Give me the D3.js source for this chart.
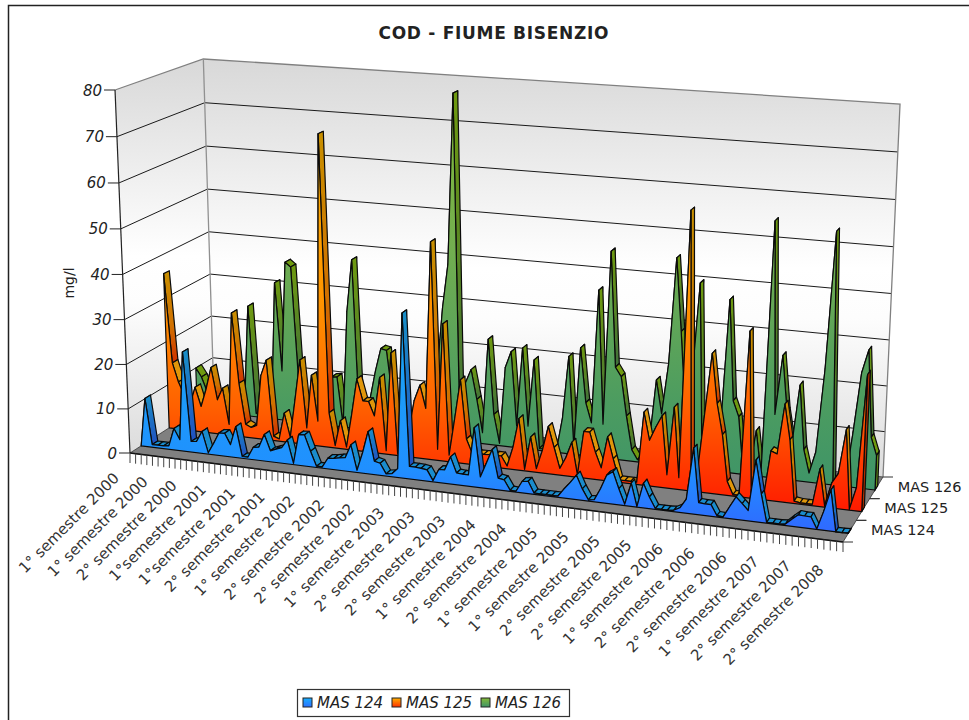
<!DOCTYPE html>
<html lang="en">
<head>
<meta charset="UTF-8">
<title>COD - FIUME BISENZIO</title>
<style>
body { margin: 0; background: #fff; }
svg { display: block; font-family: "DejaVu Sans", sans-serif; fill: #222; }
</style>
</head>
<body>
<div id="chart"></div>
<script src="https://d3js.org/d3.v7.min.js"></script>
<script>

const series = ["MAS 124", "MAS 125", "MAS 126"];
const yTicks = [0, 10, 20, 30, 40, 50, 60, 70, 80];
const xLabels = ["1° semestre 2000", "1° semestre 2000", "2° semestre 2000", "1°semestre 2001", "1°semestre 2001", "2° semestre 2001",
    "1° semestre 2002", "2° semestre 2002", "2° semestre 2002", "1° semestre 2003", "2° semestre 2003", "2° semestre 2003",
    "1° semestre 2004", "2° semestre 2004", "1° semestre 2005", "1° semestre 2005", "2° semestre 2005", "2° semestre 2005",
    "1° semestre 2006", "2° semestre 2006", "2° semestre 2006", "1° semestre 2007", "2° semestre 2007", "2° semestre 2008"];

const mas124 = [0, 11, .6, .6, .6, .8, 4.9, 2.5, 22.5, 2.4,
    2.6, 5, .3, 2.6, 5.1, 5.2, 2.8, 7, .4, .4,
    2.8, 3, 6, 2.5, 3, 3.5, 5.4, .3, 6.9, 7,
    3.5, .3, .3, 2.4, 2.5, 2.8, 3, 6, .5, 4.5,
    9.4, 3, 2.7, .5, .7, 2, 36.2, 2.8, 2.8, 2.7,
    2.5, .3, 2.9, 3, 6, 2.6, 2.5, 2.5, 13, 2.4,
    5.5, 8.7, 2.6, 2.4, .3, .2, 2.5, 2.7, .3, .3,
    .3, .3, .3, 2, 3.6, 5.3, 2.5, .3, .5, 3,
    6.1, 7, 3.5, .3, 5, .1, 5.3, 2.5, .2, .2,
    .2, .3, 1, 3, 14, 2.6, 2.5, 2.5, .3, .2,
    2.5, 4.8, 3.5, 2.2, 13, 6, .2, .2, .2, .3,
    1.5, 2.6, 2.5, 2.5, .1, 4, 8.6, 0, 0, .1];

const mas125 = [35.7, 15.3, 11, 8, 6, 10.2, 5.9, 10, 15.2, 7.9,
    10.7, 2.5, 28.3, 12.3, 3, 2.4, 3, 14.7, 18.3, 1,
    .5, 6.6, 1.2, 10, 19.2, 3.8, 16, 5.7, 70, 7.9,
    .5, 6.4, .5, 8, 16.3, 11.5, 11.5, 8.4, 17.2, .8,
    23, .5, .5, 6, 12.9, 16.5, 11.4, 48.5, 2.5, 30.7,
    1.5, 10, 18.7, 5.6, 2.5, 2.6, 2.6, 2.7, 2.7, 2.7,
    .6, 5, 11.5, .3, 7.7, .8, 5, 10.5, 6, 1.5,
    4, 7.6, .5, 10.3, 10.3, 6, 2.7, 9.7, 5, .5,
    .5, .5, .5, 16, 10, 13, 15.6, 2.9, 17.8, 2.6,
    60, 4, 3.6, 17, 30.2, 19.6, 13, 3, .3, .3,
    35.7, .2, .2, .5, 10.7, 10.2, 21, 13.5, .5, .3,
    .3, .3, 8, .3, 5.4, 7.5, 17, .2, 5, 29];

const mas126 = [10, 8, 4.6, 1, .5, .5, .5, .5, 1, 4,
    25.9, .8, .5, .5, 3, 32, 11.6, 37, 36, 9.7,
    1, .5, .5, 5, 9, 11.4, 11.6, .3, 27, 39,
    .5, 3, 7.6, 14, 19.3, 19, 8, .5, .5, .5,
    .5, .5, .5, 3, 15, 30, 40, 78, 2, 13.5,
    16.7, 10, 2.5, 24, 7, .5, 18, 21.7, 5, 22.8,
    5.2, 20.4, .4, .4, .4, .5, 8, 22, 1.7, 24.2,
    12, 7.6, 37.4, 7.6, 46.2, 20.7, 18.7, 10, 2.6, .5,
    .5, 5, 18.8, 11.4, 22.6, 46, 30, 12, 20, 41,
    2, .5, .5, 10, 38, 16, 12.6, .5, .5, 10,
    .5, 55.7, 14, 27, 15, 8, 21, 7, 2, 6.8,
    25, 54.5, .5, .5, .5, 12, 25, 30, 11.3, 7.5];

const width = 969;
const height = 720;

const svg = d3.select("#chart").append("svg")
    .attr("width", width)
    .attr("height", height);
const defs = svg.append("defs");

// axis scales into the unit cube of the 3D box
const xScale = d3.scaleLinear().domain([0, 119]).range([0, 1]);
const yScale = d3.scaleLinear().domain([0, 80]).range([0, 1]);
const zScale = d3.scaleBand().domain(series).range([0, 1]).paddingInner(.8).paddingOuter(.4);

// corners of the floor on screen: front left, front right, back right, back left
const floorX = [130, 843, 883, 214];
const floorY = [453, 542, 477, 399];
const wallH = [363, 398, 373, 340];
const vanish = [488, 9130];   // the verticals meet down here

function bilerp(c, u, w) {
    return (c[0] * (1 - u) + c[1] * u) * (1 - w) + (c[3] * (1 - u) + c[2] * u) * w;
}

// ticks get a bit wider to the right
function warp(u) {
    return (46 * u * u + 660 * u) / 706;
}

function project(u, w, v) {
    const uu = warp(u);
    const bx = bilerp(floorX, uu, w);
    const by = bilerp(floorY, uu, w);
    const h = 1 / bilerp(wallH.map(d => 1 / d), uu, w);
    const t = v / (v + (1 - v) * 1.033);
    const dy = h * t;
    return [bx - (vanish[0] - bx) / (vanish[1] - by) * dy, by - dy];
}

const pathOf = pts => "M" + pts.map(p => p[0].toFixed(1) + "," + p[1].toFixed(1)).join("L") + "Z";

function addGradient(id, stops, y1, y2) {
    const g = defs.append("linearGradient").attr("id", id).attr("x1", 0).attr("x2", 0);
    if (y1 !== undefined) {
        g.attr("gradientUnits", "userSpaceOnUse").attr("y1", y1).attr("y2", y2);
    } else {
        g.attr("y1", 0).attr("y2", 1);
    }
    stops.forEach(s => g.append("stop").attr("offset", s[0]).attr("stop-color", s[1]));
}

addGradient("wall", [[0, "#d8d8d8"], [.5, "#ffffff"], [.62, "#fdfdfd"], [1, "#dcdcdc"]]);
addGradient("front0", [[0, "#18a8f0"], [.7, "#2090ff"], [1, "#3264ff"]], 300, 540);
addGradient("front1", [[0, "#ffb400"], [.45, "#ff9400"], [.72, "#ff6000"], [1, "#ff1800"]], 130, 515);
addGradient("front2", [[0, "#84ba38"], [.4, "#72ae50"], [.78, "#4c9c60"], [1, "#3e9468"]], 90, 490);
addGradient("fall0", [[0, "#1a90c8"], [1, "#2050c0"]]);
addGradient("fall1", [[0, "#c89000"], [.6, "#d07000"], [1, "#d03000"]]);
addGradient("fall2", [[0, "#6f9a10"], [1, "#40703a"]]);
addGradient("mark0", [[0, "#18b0ff"], [1, "#2e70ff"]]);
addGradient("mark1", [[0, "#ffb000"], [1, "#ff3000"]]);
addGradient("mark2", [[0, "#84ba38"], [1, "#3e9468"]]);

const flatColour = ["#1a8ccc", "#e0960a", "#6f9a10"];
const endColour = ["#1c5cb0", "#b03000", "#5f8a18"];

// outer frame, only left and top fall inside the picture
svg.append("path")
    .attr("d", "M8.5," + height + "V5.5H" + width)
    .attr("fill", "none").attr("stroke", "#222").attr("stroke-width", 1.5);

svg.append("text").attr("x", 493.5).attr("y", 39)
    .attr("text-anchor", "middle").attr("font-weight", "bold").attr("font-size", 17)
    .attr("textLength", 230)
    .text("COD - FIUME BISENZIO");

// walls
svg.append("path")
    .attr("d", pathOf([project(0, 0, 0), project(0, 0, 1), project(0, 1, 1), project(0, 1, 0)]))
    .attr("fill", "url(#wall)");
svg.append("path")
    .attr("d", pathOf([project(0, 1, 0), project(0, 1, 1), project(1, 1, 1), project(1, 1, 0)]))
    .attr("fill", "url(#wall)");

// gridlines
yTicks.slice(1, -1).forEach(t => {
    const v = yScale(t);
    svg.append("path")
        .attr("d", "M" + [project(0, 0, v), project(0, 1, v), project(1, 1, v)].map(p => p.join(",")).join("L"))
        .attr("fill", "none").attr("stroke", "#1a1a1a").attr("stroke-width", 1);
});

// wall outlines
svg.append("path")
    .attr("d", "M" + [project(0, 0, 1), project(0, 1, 1), project(1, 1, 1), project(1, 1, 0)].map(p => p.join(",")).join("L"))
    .attr("fill", "none").attr("stroke", "#808080").attr("stroke-width", 1.3);
svg.append("path")
    .attr("d", "M" + project(0, 1, 1).join(",") + "L" + project(0, 1, 0).join(","))
    .attr("fill", "none").attr("stroke", "#909090").attr("stroke-width", 1.3);
svg.append("path")
    .attr("d", "M" + project(0, 0, 1).join(",") + "L" + project(0, 0, 0).join(","))
    .attr("fill", "none").attr("stroke", "#222").attr("stroke-width", 1.2);

// floor
svg.append("path")
    .attr("d", pathOf([project(0, 0, 0), project(1, 0, 0), project(1, 1, 0), project(0, 1, 0)]))
    .attr("fill", "#808080").attr("stroke", "#333").attr("stroke-width", .8);
svg.append("path")
    .attr("d", "M" + project(0, 0, 0).join(",") + "L" + project(1, 0, 0).join(","))
    .attr("stroke", "#111").attr("stroke-width", 1.5);

// y axis
yTicks.forEach(t => {
    const p = project(0, 0, yScale(t));
    svg.append("line").attr("x1", p[0] - 11).attr("x2", p[0]).attr("y1", p[1]).attr("y2", p[1])
        .attr("stroke", "#222").attr("stroke-width", 1);
    svg.append("text").attr("x", p[0] - 13).attr("y", p[1] + 5.5)
        .attr("text-anchor", "end").attr("font-style", "italic").attr("font-size", 15)
        .text(t);
});
svg.append("text")
    .attr("transform", "translate(74,283) rotate(-90)")
    .attr("text-anchor", "middle").attr("font-size", 14)
    .text("mg/l");

// x ticks along the front of the floor
d3.range(0, 120).forEach(i => {
    const p = project(xScale(i), 0, 0);
    svg.append("line").attr("x1", p[0]).attr("x2", p[0]).attr("y1", p[1]).attr("y2", p[1] + 10)
        .attr("stroke", "#444").attr("stroke-width", 1);
});

// x labels, one every five ticks
xLabels.forEach((d, k) => {
    const p = project(xScale(k * 5), 0, 0);
    svg.append("text")
        .attr("transform", "translate(" + (p[0] - 10 + k * .74) + "," + (p[1] + 26 + k * .27) + ") rotate(-45)")
        .attr("text-anchor", "end").attr("font-size", 15).attr("fill", "#333")
        .text(d);
});

// depth axis on the right
series.forEach((d, s) => {
    const p = project(1, s / 3, 0);
    const q = project(1, (s + 1) / 3, 0);
    svg.append("line").attr("x1", p[0]).attr("x2", p[0] + 10).attr("y1", p[1]).attr("y2", p[1])
        .attr("stroke", "#333").attr("stroke-width", 1);
    svg.append("line").attr("x1", q[0]).attr("x2", q[0] + 10).attr("y1", q[1]).attr("y2", q[1])
        .attr("stroke", "#333").attr("stroke-width", 1);
    svg.append("text").attr("x", p[0] + 28).attr("y", p[1] - 7)
        .attr("font-size", 14.5)
        .text(d);
});

// the three ribbons, back one first
[mas124, mas125, mas126].map((values, s) => ({values, s})).reverse().forEach(({values, s}) => {
    const g = svg.append("g");
    const w0 = zScale(series[s]);
    const w1 = w0 + zScale.bandwidth();
    const front = values.map((d, i) => project(xScale(i), w0, yScale(d)));
    const back = values.map((d, i) => project(xScale(i), w1, yScale(d)));

    g.selectAll("path.top")
        .data(d3.range(values.length - 1))
        .enter().append("path")
        .attr("d", i => pathOf([front[i], front[i + 1], back[i + 1], back[i]]))
        .attr("fill", i => values[i] - values[i + 1] > 6 ? "url(#fall" + s + ")" : flatColour[s])
        .attr("stroke", "#0a0a0a").attr("stroke-width", 1.2).attr("stroke-linejoin", "round");

    // right hand end of the ribbon
    const last = values.length - 1;
    g.append("path")
        .attr("d", pathOf([front[last], back[last], project(xScale(last), w1, 0), project(xScale(last), w0, 0)]))
        .attr("fill", endColour[s]).attr("stroke", "#0a0a0a").attr("stroke-width", 1.2);

    const outline = front.concat([project(xScale(last), w0, 0), project(0, w0, 0)]);
    g.append("path")
        .attr("d", pathOf(outline))
        .attr("fill", "url(#front" + s + ")")
        .attr("stroke", "#0a0a0a").attr("stroke-width", 1.2).attr("stroke-linejoin", "round");
});

// legend
svg.append("rect").attr("x", 297.5).attr("y", 689.5).attr("width", 272).attr("height", 27)
    .attr("fill", "#fff").attr("stroke", "#333").attr("stroke-width", 1.2);
series.forEach((d, s) => {
    svg.append("rect").attr("x", 303 + s * 89).attr("y", 698).attr("width", 9).attr("height", 9)
        .attr("fill", "url(#mark" + s + ")").attr("stroke", "#222");
    svg.append("text").attr("x", 317 + s * 89).attr("y", 708)
        .attr("font-style", "italic").attr("font-size", 15)
        .text(d);
});

</script>
</body>
</html>
